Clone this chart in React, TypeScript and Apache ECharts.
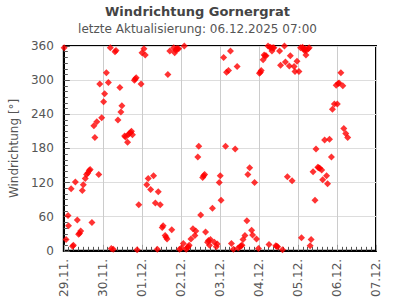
import React, { useEffect, useRef } from "react";
import * as echarts from "echarts";

const titleText = "Windrichtung Gornergrat";
const subtitleText = "letzte Aktualisierung: 06.12.2025 07:00";
const yAxisName = "Windrichtung [°]";
const startDay = Date.UTC(2025, 10, 29);
const dayCount = 8;
const yTicks = [0, 60, 120, 180, 240, 300, 360];

// hours since 29.11. 00:00
const hours = [
  0.2, 1.4, 2.6, 2.9, 4.5, 5.4, 5.9, 7.1, 8.3, 9.1, 9.7, 10.4, 11.4, 12.0, 13.2, 14.0, 14.8, 15.6, 16.2, 17.3,
  18.5, 19.1, 20.3, 21.5, 22.1, 23.3, 24.5, 25.1, 26.2, 27.4, 28.6, 29.2, 30.4, 31.5, 32.1, 33.3, 34.5, 35.1, 35.7,
  37.4, 38.0, 39.2, 39.8, 40.4, 41.0, 41.6, 42.2, 43.4, 43.9, 44.5, 45.1, 46.1, 47.5, 48.1, 49.3, 50.1, 51.0, 51.9,
  53.4, 55.2, 56.3, 57.5, 58.1, 59.3, 60.5, 61.1, 62.3, 62.9, 63.5, 64.0, 65.2, 66.4, 67.6, 68.2, 68.8, 69.4, 70.0,
  70.6, 71.2, 72.3, 73.5, 74.1, 75.3, 75.9, 76.5, 77.1, 78.2, 79.4, 80.6, 81.2, 82.4, 83.0, 84.2, 85.4, 86.0, 86.6,
  87.2, 88.4, 89.0, 89.6, 90.2, 91.4, 92.6, 93.8, 94.4, 95.6, 96.2, 96.7, 98.3, 99.5, 100.1, 101.3, 102.5, 103.1,
  104.3, 105.4, 106.6, 107.2, 108.4, 109.0, 109.6, 110.2, 111.4, 112.6, 113.2, 114.3, 115.5, 116.1, 117.3, 118.5,
  119.7, 120.3, 120.9, 121.4, 122.6, 123.2, 123.8, 124.4, 125.6, 126.2, 126.8, 127.4, 128.0, 128.6, 129.2, 130.4,
  130.9, 131.5, 132.7, 133.3, 134.5, 135.7, 136.3, 137.5, 138.7, 139.3, 140.4, 141.6, 142.2, 143.4, 144.6, 145.6,
  146.2, 146.8, 147.4, 148.0, 148.6, 148.9, 149.1, 150.3, 150.9, 151.5, 152.1, 153.3, 154.5, 155.1, 156.2, 156.8,
  157.4, 158.6, 159.2, 160.4, 161.6, 162.2, 163.4, 164.6, 165.2, 166.4, 167.5, 168.2, 168.7, 169.3, 170.4, 171.6,
  172.2, 173.4, 174.6,
];

// wind direction in degrees
const directions = [
  357, 20, 62, 44, 109, 8, 10, 121, 54, 29, 31, 35, 106, 116, 127, 134, 137, 141, 143, 50,
  220, 199, 227, 134, 293, 234, 262, 276, 313, 296, 357, 4, 3, 350, 352, 230, 287, 244, 255,
  202, 200, 191, 205, 206, 208, 210, 204, 300, 302, 304, 2, 81, 293, 348, 355, 344, 116, 127,
  108, 132, 84, 3, 104, 81, 41, 44, 27, 24, 21, 310, 351, 37, 357, 348, 353, 355, 355,
  355, 3, 5, 13, 360, 3, 6, 7, 10, 21, 39, 27, 35, 165, 184, 63, 129, 132, 134,
  33, 15, 18, 10, 20, 75, 15, 7, 12, 120, 132, 89, 340, 184, 314, 317, 351, 13,
  3, 179, 324, 5, 7, 9, 10, 20, 27, 53, 134, 146, 36, 28, 120, 21,
  4, 312, 314, 317, 336, 344, 343, 343, 360, 11, 358, 357, 351, 357, 357, 9,
  8, 7, 351, 326, 2, 360, 332, 130, 325, 343, 123, 324, 315, 333, 315, 357,
  23, 358, 355, 352, 355, 344, 352, 355, 357, 9, 20, 139, 89, 179, 147, 146,
  145, 142, 125, 195, 132, 118, 196, 165, 249, 258, 291, 258, 294, 295, 313, 290,
  215, 206, 199,
];

const FONT = "DejaVu Sans";
const DAY = 86400000;

export default function App() {
  const ref = useRef<HTMLDivElement>(null);
  useEffect(() => {
    if (!ref.current) return;
    const chart = echarts.init(ref.current, undefined, { renderer: "svg" });
    const data = hours.map((h, i) => [startDay + h * 3600000, directions[i]]);
    const pad = (n: number) => (n < 10 ? "0" + n : "" + n);
    chart.setOption({
      animation: false,
      backgroundColor: "#fff",
      textStyle: { fontFamily: FONT },
      title: {
        text: titleText,
        subtext: subtitleText,
        left: "center",
        top: 0,
        itemGap: 5,
        textStyle: { fontFamily: FONT, fontSize: 13, fontWeight: "bold", color: "#444" },
        subtextStyle: { fontFamily: FONT, fontSize: 12, color: "#555" },
      },
      grid: {
        left: 51,
        right: 19,
        top: 46,
        bottom: 46,
        show: true,
        borderColor: "#000",
        borderWidth: 2,
      },
      xAxis: {
        type: "value",
        min: startDay,
        max: startDay + dayCount * DAY,
        interval: DAY,
        axisLine: { show: true, lineStyle: { color: "#000", width: 2 } },
        axisTick: { show: true, inside: true, length: 6, lineStyle: { color: "#999" } },
        minorTick: { show: true, splitNumber: 8, length: 4, lineStyle: { color: "#555" } },
        splitLine: { show: true, lineStyle: { color: "#ccc", width: 1 } },
        axisLabel: {
          rotate: 90,
          fontFamily: FONT,
          fontSize: 12,
          color: "#555",
          margin: 8,
          formatter: (v: number) => {
            const d = new Date(v);
            return pad(d.getUTCDate()) + "." + pad(d.getUTCMonth() + 1) + ".";
          },
        },
      },
      yAxis: {
        type: "value",
        min: yTicks[0],
        max: yTicks[yTicks.length - 1],
        interval: 60,
        name: yAxisName,
        nameLocation: "middle",
        nameRotate: 90,
        nameGap: 42,
        nameTextStyle: { fontFamily: FONT, fontSize: 12, color: "#555" },
        axisLine: { show: true, lineStyle: { color: "#000", width: 2 } },
        axisTick: { show: true, inside: true, length: 6, lineStyle: { color: "#555" } },
        minorTick: { show: true, splitNumber: 6, length: 4, lineStyle: { color: "#555" } },
        splitLine: { show: true, lineStyle: { color: "#ddd", width: 1 } },
        axisLabel: { fontFamily: FONT, fontSize: 12, color: "#555", margin: 10 },
      },
      series: [
        {
          type: "scatter",
          data,
          symbol: "diamond",
          symbolSize: 7,
          itemStyle: { color: "#ff0000" },
          clip: false,
        },
      ],
    });
    return () => chart.dispose();
  }, []);
  return <div ref={ref} style={{ width: 395, height: 300, position: "absolute", left: 0, top: 0 }} />;
}
